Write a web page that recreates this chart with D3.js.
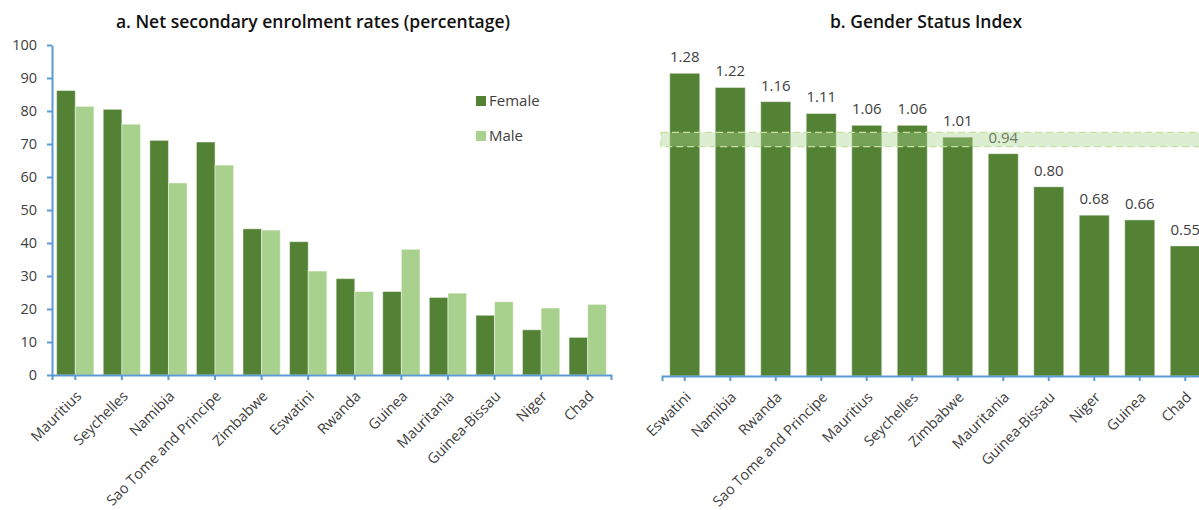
<!DOCTYPE html>
<html>
<head>
<meta charset="utf-8">
<script src="https://cdn.jsdelivr.net/npm/d3@7"></script>
<style>
  body { margin: 0; background: #fff; }
  text { font-family: "Open Sans", "Noto Sans", sans-serif; fill: #404040; }
</style>
</head>
<body>
<div id="chart"></div>
<script>
// panel a data
var countriesA = ["Mauritius", "Seychelles", "Namibia", "Sao Tome and Principe", "Zimbabwe", "Eswatini",
                  "Rwanda", "Guinea", "Mauritania", "Guinea-Bissau", "Niger", "Chad"];
var female = [86.2, 80.5, 71.1, 70.6, 44.3, 40.4, 29.2, 25.3, 23.5, 18.1, 13.7, 11.4];
var male   = [81.4, 76.0, 58.2, 63.6, 43.9, 31.5, 25.3, 38.1, 24.8, 22.2, 20.3, 21.4];
var yTicksA = [0, 10, 20, 30, 40, 50, 60, 70, 80, 90, 100];
var seriesNames = ["Female", "Male"];

// panel b data
var countriesB = ["Eswatini", "Namibia", "Rwanda", "Sao Tome and Principe", "Mauritius", "Seychelles",
                  "Zimbabwe", "Mauritania", "Guinea-Bissau", "Niger", "Guinea", "Chad"];
var gsi = [1.28, 1.22, 1.16, 1.11, 1.06, 1.06, 1.01, 0.94, 0.80, 0.68, 0.66, 0.55];
var parityBand = [0.97, 1.03];

var W = 1199, H = 510;
var dark = "#548235", light = "#a9d18e", axisBlue = "#5b9bd5";

var svg = d3.select("#chart").append("svg")
    .attr("width", W).attr("height", H);

// rotated category labels, same for both panels
function styleXLabels(g) {
    g.selectAll(".tick text")
        .style("text-anchor", "end")
        .style("font-size", "14.5px")
        .style("fill", "#404040")
        .style("font-family", "'Open Sans', sans-serif")
        .attr("dy", null)
        .attr("y", null)
        .attr("transform", "translate(7,22) rotate(-45)");
}

// ---------- panel a ----------
var xA = d3.scaleBand().domain(countriesA).range([52, 611]).paddingInner(0.2).paddingOuter(0.1);
var xSub = d3.scaleBand().domain(seriesNames).range([0, xA.bandwidth()]);
var yA = d3.scaleLinear().domain([0, 100]).range([375, 45]);
var colorA = d3.scaleOrdinal().domain(seriesNames).range([dark, light]);

svg.append("text")
    .attr("x", 313).attr("y", 28)
    .attr("text-anchor", "middle")
    .style("font-size", "17.5px")
    .style("font-weight", "600")
    .style("fill", "#111")
    .text("a. Net secondary enrolment rates (percentage)");

var rowsA = countriesA.map(function(c, i) { return {c: c, Female: female[i], Male: male[i]}; });

svg.append("g").selectAll("g")
    .data(rowsA)
    .enter().append("g")
    .attr("transform", function(d) { return "translate(" + xA(d.c) + ",0)"; })
    .selectAll("rect")
    .data(function(d) { return seriesNames.map(function(s) { return {s: s, v: d[s]}; }); })
    .enter().append("rect")
    .attr("x", function(d) { return xSub(d.s); })
    .attr("y", function(d) { return yA(d.v); })
    .attr("width", xSub.bandwidth())
    .attr("height", function(d) { return yA(0) - yA(d.v); })
    .style("fill", function(d) { return colorA(d.s); })
    .style("stroke", "rgba(255,255,255,0.45)")
    .style("stroke-width", 1);

// y axis
var yAxisA = svg.append("g")
    .attr("transform", "translate(52,0)")
    .call(d3.axisLeft(yA).tickValues(yTicksA).tickSize(5).tickSizeOuter(0));
yAxisA.select(".domain").style("stroke", axisBlue).style("stroke-width", 2);
yAxisA.selectAll(".tick line").style("stroke", axisBlue).style("stroke-width", 2);
yAxisA.selectAll(".tick text").attr("x", -15).style("font-size", "14.5px").style("fill", "#404040")
    .style("font-family", "'Open Sans', sans-serif");

// x axis
var xAxisA = svg.append("g")
    .attr("transform", "translate(0,375)")
    .call(d3.axisBottom(xA).tickSize(5).tickSizeOuter(5));
xAxisA.select(".domain").style("stroke", axisBlue).style("stroke-width", 2);
xAxisA.selectAll(".tick line").style("stroke", axisBlue).style("stroke-width", 2);
styleXLabels(xAxisA);

// legend
var legend = svg.append("g").selectAll("g")
    .data(seriesNames)
    .enter().append("g")
    .attr("transform", function(d, i) { return "translate(476," + (96 + i * 35) + ")"; });
legend.append("rect").attr("width", 10).attr("height", 10)
    .style("fill", function(d) { return colorA(d); });
legend.append("text").attr("x", 13).attr("y", 5).attr("dy", "0.35em")
    .style("font-size", "15px")
    .text(function(d) { return d; });

// ---------- panel b ----------
var xB = d3.scaleBand().domain(countriesB).range([662, 1208]).paddingInner(0.34).paddingOuter(0.17);
var yB = d3.scaleLinear().domain([0, 1.4]).range([376, 376 - 1.4 * 236.5]);

svg.append("text")
    .attr("x", 926).attr("y", 28)
    .attr("text-anchor", "middle")
    .style("font-size", "17.5px")
    .style("font-weight", "600")
    .style("fill", "#111")
    .text("b. Gender Status Index");

svg.append("g").selectAll("rect")
    .data(gsi)
    .enter().append("rect")
    .attr("x", function(d, i) { return xB(countriesB[i]); })
    .attr("y", function(d) { return yB(d); })
    .attr("width", xB.bandwidth())
    .attr("height", function(d) { return yB(0) - yB(d); })
    .style("fill", dark)
    .style("stroke", "rgba(255,255,255,0.45)")
    .style("stroke-width", 1);

svg.append("g").selectAll("text")
    .data(gsi)
    .enter().append("text")
    .attr("x", function(d, i) { return xB(countriesB[i]) + xB.bandwidth() / 2; })
    .attr("y", function(d) { return yB(d) - 11; })
    .attr("text-anchor", "middle")
    .style("font-size", "15px")
    .text(function(d) { return d3.format(".2f")(d); });

// parity band
svg.append("rect")
    .attr("x", 661)
    .attr("y", yB(parityBand[1]))
    .attr("width", W - 661 + 5)
    .attr("height", yB(parityBand[0]) - yB(parityBand[1]))
    .style("fill", "rgba(169,209,142,0.4)")
    .style("stroke", "#c5e0a0")
    .style("stroke-width", 1.2)
    .style("stroke-dasharray", "7,4");

var xAxisB = svg.append("g")
    .attr("transform", "translate(0,376)")
    .call(d3.axisBottom(xB).tickSize(5).tickSizeOuter(5));
xAxisB.select(".domain").style("stroke", axisBlue).style("stroke-width", 2);
xAxisB.selectAll(".tick line").style("stroke", axisBlue).style("stroke-width", 2);
styleXLabels(xAxisB);
</script>
</body>
</html>
